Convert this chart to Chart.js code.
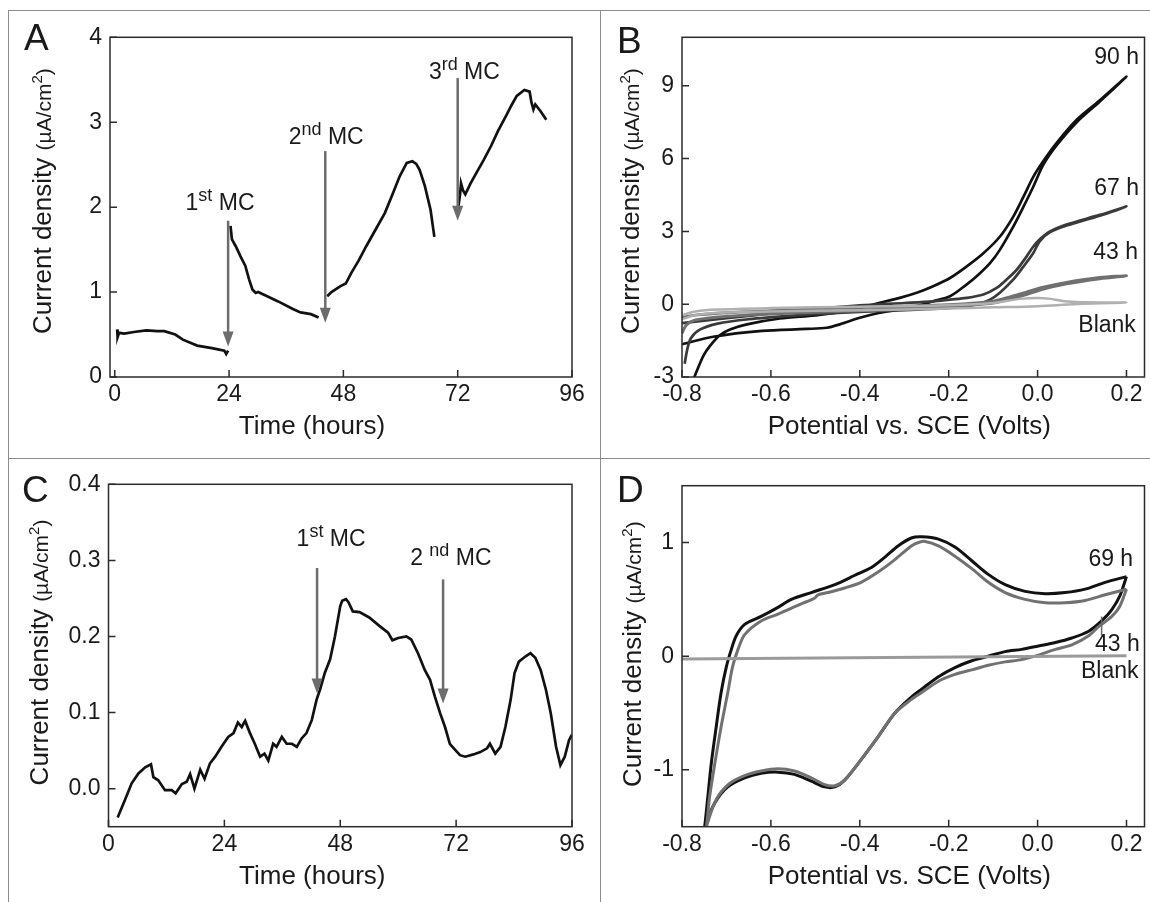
<!DOCTYPE html>
<html>
<head>
<meta charset="utf-8">
<script src="https://cdn.jsdelivr.net/npm/chart.js@4.4.1/dist/chart.umd.min.js"></script>
<style>
  body { margin: 0; background: #fff; width: 1150px; height: 902px; position: relative; overflow: hidden; }
  canvas { position: absolute; }
  .rule { position: absolute; background: #8c8c8c; }
</style>
</head>
<body>
<div class="rule" style="left:8px;top:10px;width:1142px;height:1px"></div>
<div class="rule" style="left:8px;top:10px;width:1px;height:892px"></div>
<div class="rule" style="left:600px;top:10px;width:1px;height:892px"></div>
<div class="rule" style="left:8px;top:458px;width:1142px;height:1px"></div>
<canvas id="panelA" width="591" height="446" style="left:9px;top:11px"></canvas>
<canvas id="panelB" width="549" height="446" style="left:601px;top:11px"></canvas>
<canvas id="panelC" width="591" height="442" style="left:9px;top:459px"></canvas>
<canvas id="panelD" width="549" height="442" style="left:601px;top:459px"></canvas>
<script>
// ---- panel A: current density vs time (null = break in the trace)
const aHours = [0.5, 0.6, 0.9, 2, 4, 6.6, 9, 10.4, 12.7, 14.3, 17.3, 20.4, 23, 23.4, 23.8, null,
  24.3, 24.6, 25.4, 26.4, 27.4, 28.2, 28.9, 29.6, 30.1, 32, 34.3, 37.4, 39, 41.2, 42.8, null,
  44.6, 45.5, 47.4, 48.5, 49.7, 51.2, 52.8, 54.8, 56.7, 58.3, 59.8, 61.3, 62.5, 63.3, 64, 65.1, 66.3, 67.1, null,
  72.1, 72.5, 72.7, 73.1, 73.6, 74.7, 75.9, 77.5, 79, 80.5, 82.1, 83.3, 84.4, 86, 87.1, 87.5, 87.9, 88.3, 89.4, 90.6];
const aCurrent = [0.56, 0.47, 0.52, 0.51, 0.53, 0.55, 0.54, 0.54, 0.5, 0.44, 0.37, 0.34, 0.31, 0.27, 0.31, null,
  1.78, 1.62, 1.54, 1.42, 1.31, 1.15, 1.03, 0.99, 1.0, 0.95, 0.89, 0.8, 0.76, 0.74, 0.7, null,
  0.95, 1.0, 1.07, 1.1, 1.23, 1.37, 1.54, 1.74, 1.93, 2.15, 2.36, 2.52, 2.54, 2.51, 2.44, 2.25, 1.97, 1.65, null,
  1.99, 2.15, 2.28, 2.2, 2.15, 2.28, 2.4, 2.56, 2.72, 2.9, 3.07, 3.2, 3.31, 3.38, 3.36, 3.23, 3.15, 3.21, 3.13, 3.03];
const aTimeTicks = [0, 24, 48, 72, 96];
const aCurrentTicks = [0, 1, 2, 3, 4];
const aArrowHours = [23.8, 44.2, 72];
const aArrowFrom = [1.84, 2.66, 3.52];
const aArrowTo = [0.36, 0.64, 1.84];
const aMarkLabels = [['1', 'st', ' MC'], ['2', 'nd', ' MC'], ['3', 'rd', ' MC']];
const aMarkHours = [22.1, 44.4, 73.4];
const aMarkCurrent = [2.06, 2.84, 3.6];

// ---- panel B: polarisation curves (each a forward + return scan)
const b90V = [-0.8, -0.73, -0.62, -0.52, -0.474, -0.445, -0.4, -0.355, -0.31, -0.272, -0.235, -0.197, -0.16, -0.137, -0.107, -0.085, -0.055, -0.032, -0.01, 0.013, 0.043, 0.088, 0.14, 0.2,
  0.14, 0.088, 0.043, 0.013, -0.01, -0.032, -0.055, -0.085, -0.122, -0.16, -0.197, -0.235, -0.272, -0.31, -0.355, -0.43, -0.5, -0.58, -0.654, -0.692, -0.715, -0.737, -0.752, -0.771, -0.776];
const b90I = [-1.65, -1.34, -1.1, -1.02, -0.97, -0.83, -0.56, -0.35, -0.22, -0.08, 0.12, 0.33, 0.81, 1.15, 1.69, 2.24, 3.19, 4.01, 4.83, 5.75, 6.55, 7.5, 8.35, 9.38,
  8.4, 7.6, 6.65, 5.9, 5.24, 4.42, 3.6, 2.78, 2.1, 1.55, 1.08, 0.74, 0.47, 0.26, 0.06, -0.29, -0.46, -0.59, -0.83, -1.04, -1.28, -1.72, -2.13, -2.95, -3.2];
const b67V = [-0.794, -0.788, -0.78, -0.76, -0.72, -0.65, -0.55, -0.45, -0.35, -0.272, -0.197, -0.137, -0.107, -0.085, -0.055, -0.032, -0.01, 0.005, 0.028, 0.065, 0.14, 0.2,
  0.14, 0.065, 0.028, 0.005, -0.01, -0.025, -0.047, -0.07, -0.092, -0.122, -0.16, -0.197, -0.235, -0.3, -0.4, -0.5, -0.6, -0.7, -0.76, -0.8];
const b67I = [-2.45, -1.85, -1.4, -1.05, -0.8, -0.62, -0.47, -0.36, -0.28, -0.22, -0.15, -0.01, 0.19, 0.47, 1.01, 1.55, 2.1, 2.6, 2.97, 3.24, 3.65, 4.03,
  3.68, 3.28, 3.0, 2.68, 2.37, 1.96, 1.42, 1.01, 0.67, 0.4, 0.26, 0.19, 0.12, 0.05, -0.05, -0.2, -0.38, -0.58, -0.7, -0.78];
const b43V = [-0.8, -0.79, -0.77, -0.7, -0.6, -0.5, -0.4, -0.3, -0.2, -0.16, -0.1, -0.062, -0.025, 0.013, 0.065, 0.14, 0.2,
  0.14, 0.065, 0.013, -0.025, -0.062, -0.1, -0.16, -0.2, -0.3, -0.4, -0.5, -0.6, -0.7, -0.77, -0.8];
const b43I = [-1.2, -0.85, -0.65, -0.5, -0.4, -0.33, -0.27, -0.2, -0.12, -0.05, 0.05, 0.2, 0.4, 0.62, 0.84, 1.05, 1.17,
  1.1, 0.9, 0.7, 0.5, 0.3, 0.12, 0.02, -0.02, -0.08, -0.14, -0.2, -0.27, -0.35, -0.45, -0.55];
const bBlankV = [-0.8, -0.77, -0.72, -0.6, -0.4, -0.2, -0.1, 0.0, 0.1, 0.2,
  0.1, 0.06, 0.03, 0.0, -0.04, -0.1, -0.2, -0.4, -0.6, -0.72, -0.77, -0.8];
const bBlankI = [-0.62, -0.45, -0.35, -0.3, -0.25, -0.18, -0.13, -0.08, 0.02, 0.07,
  0.08, 0.12, 0.22, 0.26, 0.22, 0.05, -0.04, -0.1, -0.16, -0.22, -0.3, -0.45];
const bPotentialTicks = [-0.8, -0.6, -0.4, -0.2, 0.0, 0.2];
const bCurrentTicks = [-3, 0, 3, 6, 9];
const bNames = ['90 h', '67 h', '43 h', 'Blank'];
const bNameV = [0.228, 0.228, 0.226, 0.221];
const bNameI = [10.15, 4.78, 2.12, -0.9];

// ---- panel C: current density vs time, second reactor
const cHours = [1.9, 3.4, 4.8, 6.2, 7.6, 8.8, 9.3, 10.3, 11.7, 13.1, 13.9, 15.2, 16.2, 16.9, 17.8, 19, 19.9, 21, 22.1, 23.4, 24.8, 25.9, 26.8, 27.6, 28.3, 29.3, 30.3, 31.4, 32.3, 33.1, 34.1, 34.8, 35.9, 36.9, 38, 39, 40, 41, 42.1, 43.1, 43.8, 44.8, 45.9, 46.9, 48, 48.4,
  49.2, 49.7, 50.6, 52, 54, 56.1, 57.9, 58.8, 60, 61.7, 62.7, 64.1, 65.5, 66.6, 67.6, 68.7, 69.7, 70.7, 71.8, 72.8, 73.9, 75.6, 77, 78.4, 79, 80.1, 81.2, 82.2, 83.3, 84.1, 85, 86.4, 87.4, 88.4, 89.5, 90.6, 91.6, 92.7, 93.6, 94.5, 95.4, 96];
const cCurrent = [-0.038, -0.015, 0.007, 0.02, 0.028, 0.032, 0.015, 0.011, -0.002, -0.002, -0.006, 0.006, 0.009, 0.019, 0.0, 0.025, 0.013, 0.033, 0.042, 0.055, 0.068, 0.073, 0.087, 0.081, 0.089, 0.073, 0.059, 0.042, 0.046, 0.037, 0.059, 0.055, 0.068, 0.059, 0.059, 0.055, 0.066, 0.073, 0.09, 0.117, 0.13, 0.152, 0.17, 0.2, 0.24, 0.247,
  0.249, 0.245, 0.233, 0.232, 0.225, 0.214, 0.205, 0.195, 0.198, 0.2, 0.196, 0.178, 0.156, 0.143, 0.121, 0.099, 0.081, 0.059, 0.051, 0.044, 0.042, 0.045, 0.048, 0.053, 0.059, 0.046, 0.055, 0.081, 0.117, 0.152, 0.167, 0.174, 0.178, 0.172, 0.156, 0.13, 0.099, 0.055, 0.031, 0.042, 0.064, 0.071];
const cTimeTicks = [0, 24, 48, 72, 96];
const cCurrentTicks = [0, 0.1, 0.2, 0.3, 0.4];
const cArrowHours = [43.2, 69.3];
const cArrowFrom = [0.29, 0.275];
const cArrowTo = [0.125, 0.112];
const cMarkLabels = [['1', 'st', ' MC'], ['2 ', 'nd', ' MC']];
const cMarkHours = [46.1, 70.9];
const cMarkCurrent = [0.33, 0.304];

// ---- panel D: cyclic voltammograms
const d69V = [0.2, 0.152, 0.107, 0.062, 0.017, -0.028, -0.073, -0.111, -0.148, -0.186, -0.223, -0.261, -0.284, -0.314, -0.344, -0.374, -0.412, -0.456, -0.509, -0.554, -0.584, -0.622, -0.659, -0.678, -0.689, -0.7, -0.712, -0.723, -0.734, -0.742, -0.749, -0.755,
  -0.748, -0.726, -0.697, -0.659, -0.622, -0.584, -0.547, -0.509, -0.479, -0.456, -0.434, -0.397, -0.359, -0.321, -0.284, -0.261, -0.223, -0.186, -0.148, -0.111, -0.073, -0.036, 0.002, 0.04, 0.077, 0.115, 0.144, 0.167, 0.185, 0.2];
const d69I = [0.7, 0.65, 0.59, 0.56, 0.55, 0.57, 0.63, 0.72, 0.84, 0.96, 1.03, 1.05, 1.04, 0.97, 0.87, 0.78, 0.71, 0.63, 0.56, 0.5, 0.43, 0.35, 0.28, 0.18, 0.06, -0.09, -0.32, -0.62, -0.94, -1.24, -1.5, -1.65,
  -1.5, -1.29, -1.15, -1.07, -1.03, -1.02, -1.04, -1.1, -1.15, -1.15, -1.09, -0.91, -0.71, -0.5, -0.36, -0.29, -0.18, -0.1, -0.04, 0.0, 0.04, 0.06, 0.09, 0.12, 0.16, 0.22, 0.31, 0.41, 0.53, 0.7];
const d43V = [0.2, 0.152, 0.107, 0.062, 0.017, -0.028, -0.073, -0.111, -0.148, -0.186, -0.223, -0.253, -0.268, -0.284, -0.321, -0.359, -0.397, -0.434, -0.471, -0.494, -0.502, -0.532, -0.584, -0.622, -0.659, -0.674, -0.686, -0.697, -0.712, -0.726, -0.738, -0.745, -0.752,
  -0.745, -0.723, -0.693, -0.659, -0.622, -0.584, -0.547, -0.509, -0.479, -0.456, -0.434, -0.397, -0.359, -0.321, -0.284, -0.261, -0.223, -0.186, -0.148, -0.111, -0.073, -0.036, 0.002, 0.04, 0.077, 0.115, 0.137, 0.167, 0.185, 0.2];
const d43I = [0.59, 0.54, 0.49, 0.47, 0.47, 0.5, 0.56, 0.65, 0.77, 0.88, 0.97, 1.01, 1.0, 0.97, 0.85, 0.74, 0.65, 0.6, 0.56, 0.54, 0.51, 0.46, 0.37, 0.31, 0.19, 0.06, -0.09, -0.32, -0.62, -0.94, -1.24, -1.5, -1.65,
  -1.5, -1.26, -1.12, -1.05, -1.01, -0.99, -1.01, -1.07, -1.13, -1.14, -1.09, -0.91, -0.71, -0.5, -0.38, -0.32, -0.22, -0.16, -0.12, -0.08, -0.05, -0.03, 0.01, 0.06, 0.1, 0.18, 0.26, 0.35, 0.44, 0.59];
const dBlankV = [-0.8, 0.2];
const dBlankI = [-0.025, 0.005];
const dLeaderV = [0.144, 0.144];
const dLeaderI = [0.18, 0.35];
const dPotentialTicks = [-0.8, -0.6, -0.4, -0.2, 0.0, 0.2];
const dCurrentTicks = [-1, 0, 1];
const dNames = ['69 h', '43 h', 'Blank'];
const dNameV = [0.215, 0.23, 0.227];
const dNameI = [0.85, 0.1, -0.14];

const FONT = '"Liberation Sans", Arial, Helvetica, sans-serif';
const yTitleParts = [['Current density ', 26, 0], ['(\u00b5A/cm', 21, 0], ['2', 15, 9], [')', 21, 0]];

function pts(xs, ys) {
  return xs.map((x, i) => ({ x: x, y: ys[i] }));
}

function trace(xs, ys, color, width, tension) {
  return { data: pts(xs, ys), showLine: true, borderColor: color, borderWidth: width,
    pointRadius: 0, tension: tension || 0, fill: false, spanGaps: false };
}

// draws a run of [text, size, raise] pieces centred on cx, baseline at y
function pieces(ctx, parts, cx, y) {
  let w = 0;
  parts.forEach(p => { ctx.font = p[1] + 'px ' + FONT; w += ctx.measureText(p[0]).width; });
  let x = cx - w / 2;
  ctx.textAlign = 'left';
  ctx.textBaseline = 'alphabetic';
  parts.forEach(p => {
    ctx.font = p[1] + 'px ' + FONT;
    ctx.fillText(p[0], x, y - p[2]);
    x += ctx.measureText(p[0]).width;
  });
}

function makePanel(id, cell, area, cfg) {
  const decor = {
    id: 'decor' + id,
    afterDatasetsDraw(chart) {
      const ctx = chart.ctx;
      const ca = chart.chartArea;
      const xs = chart.scales.x, ys = chart.scales.y;
      ctx.save();
      // frame and inward ticks
      ctx.strokeStyle = '#2b2b2b';
      ctx.lineWidth = 1.5;
      ctx.strokeRect(ca.left, ca.top, ca.right - ca.left, ca.bottom - ca.top);
      ctx.beginPath();
      cfg.xTicks.forEach(v => {
        const px = xs.getPixelForValue(v);
        ctx.moveTo(px, ca.bottom); ctx.lineTo(px, ca.bottom - 7);
      });
      cfg.yTicks.forEach(v => {
        const py = ys.getPixelForValue(v);
        ctx.moveTo(ca.left, py); ctx.lineTo(ca.left + 7, py);
      });
      ctx.stroke();

      // arrows
      ctx.strokeStyle = '#6c6c6c';
      ctx.fillStyle = '#6c6c6c';
      ctx.lineWidth = 2.5;
      (cfg.arrows || []).forEach(a => {
        const px = xs.getPixelForValue(a[0]);
        const p0 = ys.getPixelForValue(a[1]);
        const p1 = ys.getPixelForValue(a[2]);
        ctx.beginPath();
        ctx.moveTo(px, p0); ctx.lineTo(px, p1 - 12);
        ctx.stroke();
        ctx.beginPath();
        ctx.moveTo(px - 5.5, p1 - 15); ctx.lineTo(px + 5.5, p1 - 15); ctx.lineTo(px, p1);
        ctx.closePath();
        ctx.fill();
      });

      ctx.fillStyle = '#1a1a1a';
      (cfg.marks || []).forEach(m => {
        const px = xs.getPixelForValue(m[1]);
        const py = ys.getPixelForValue(m[2]);
        pieces(ctx, [[m[0][0], 23, 0], [m[0][1], 18, 9], [m[0][2], 23, 0]], px, py + 8);
      });
      (cfg.names || []).forEach(n => {
        ctx.font = '23px ' + FONT;
        ctx.textAlign = 'right';
        ctx.textBaseline = 'middle';
        ctx.fillText(n[0], xs.getPixelForValue(n[1]), ys.getPixelForValue(n[2]));
      });

      // axis titles and panel letter
      ctx.font = '26px ' + FONT;
      ctx.textAlign = 'center';
      ctx.textBaseline = 'middle';
      ctx.fillText(cfg.xTitle, (ca.left + ca.right) / 2 + cfg.xTitleShift, ca.bottom + cfg.xTitleDrop);
      ctx.save();
      ctx.translate(ca.left - cfg.yTitleGap, (ca.top + ca.bottom) / 2 + cfg.yTitleShift);
      ctx.rotate(-Math.PI / 2);
      pieces(ctx, yTitleParts, 0, 9);
      ctx.restore();
      ctx.font = '37px ' + FONT;
      ctx.textAlign = 'left';
      ctx.textBaseline = 'alphabetic';
      ctx.fillText(cfg.letter, cfg.letterAt[0] - cell[0], cfg.letterAt[1] - cell[1]);
      ctx.restore();
    }
  };

  const tickFont = { family: FONT, size: 23 };
  return new Chart(document.getElementById(id), {
    type: 'scatter',
    data: { datasets: cfg.datasets },
    options: {
      responsive: false,
      animation: false,
      events: [],
      layout: { padding: { left: 0, top: area[1] - cell[1], right: cell[0] + cell[2] - area[2], bottom: 0 } },
      plugins: { legend: { display: false }, tooltip: { enabled: false } },
      scales: {
        x: {
          type: 'linear', position: 'bottom', min: cfg.xMin, max: cfg.xMax,
          afterBuildTicks: s => { s.ticks = cfg.xTicks.map(v => ({ value: v })); },
          afterFit: s => { s.height = cell[1] + cell[3] - area[3]; s.paddingLeft = 0; s.paddingRight = 0; },
          grid: { display: false, drawTicks: false },
          border: { display: false },
          ticks: { font: tickFont, color: '#1a1a1a', padding: 4, maxRotation: 0, autoSkip: false, callback: cfg.xFmt }
        },
        y: {
          type: 'linear', position: 'left', min: cfg.yMin, max: cfg.yMax,
          afterBuildTicks: s => { s.ticks = cfg.yTicks.map(v => ({ value: v })); },
          afterFit: s => { s.width = area[0] - cell[0]; s.paddingTop = 0; s.paddingBottom = 0; },
          grid: { display: false, drawTicks: false },
          border: { display: false },
          ticks: { font: tickFont, color: '#1a1a1a', padding: 8, autoSkip: false, callback: cfg.yFmt }
        }
      }
    },
    plugins: [decor]
  });
}

const plain = v => String(Math.round(v * 10) / 10);
const oneDp = v => (Math.abs(v) < 1e-9 ? 0 : v).toFixed(1);
const zip3 = (a, b, c) => a.map((v, i) => [v, b[i], c[i]]);

makePanel('panelA', [9, 11, 591, 446], [110, 37.3, 572, 377], {
  datasets: [trace(aHours, aCurrent, '#111', 2.7)],
  xMin: -1, xMax: 96, xTicks: aTimeTicks, xFmt: plain,
  yMin: 0, yMax: 4, yTicks: aCurrentTicks, yFmt: plain,
  arrows: zip3(aArrowHours, aArrowFrom, aArrowTo),
  marks: zip3(aMarkLabels, aMarkHours, aMarkCurrent),
  xTitle: 'Time (hours)', xTitleShift: -29, xTitleDrop: 50,
  yTitleGap: 68, yTitleShift: -6, letter: 'A', letterAt: [24, 50]
});

makePanel('panelB', [601, 11, 549, 446], [682, 37.3, 1144.5, 377], {
  datasets: [
    trace(bBlankV, bBlankI, '#b0b0b0', 2.5, 0.3),
    trace(b43V, b43I, '#707070', 3, 0.3),
    trace(b67V, b67I, '#3a3a3a', 2.7, 0.3),
    trace(b90V, b90I, '#111', 2.7, 0.3)
  ],
  xMin: -0.8, xMax: 0.2405, xTicks: bPotentialTicks, xFmt: oneDp,
  yMin: -3, yMax: 11, yTicks: bCurrentTicks, yFmt: plain,
  names: zip3(bNames, bNameV, bNameI),
  xTitle: 'Potential vs. SCE (Volts)', xTitleShift: -4, xTitleDrop: 50,
  yTitleGap: 52, yTitleShift: -6, letter: 'B', letterAt: [617, 53]
});

makePanel('panelC', [9, 459, 591, 442], [108.5, 484.3, 572, 826.7], {
  datasets: [trace(cHours, cCurrent, '#111', 2.7)],
  xMin: 0, xMax: 96, xTicks: cTimeTicks, xFmt: plain,
  yMin: -0.05, yMax: 0.4, yTicks: cCurrentTicks, yFmt: oneDp,
  arrows: zip3(cArrowHours, cArrowFrom, cArrowTo),
  marks: zip3(cMarkLabels, cMarkHours, cMarkCurrent),
  xTitle: 'Time (hours)', xTitleShift: -28, xTitleDrop: 50,
  yTitleGap: 70, yTitleShift: -3, letter: 'C', letterAt: [22, 502]
});

makePanel('panelD', [601, 459, 549, 442], [682, 485.7, 1144.5, 826.7], {
  datasets: [
    trace(dBlankV, dBlankI, '#9a9a9a', 3),
    trace(dLeaderV, dLeaderI, '#6a6a6a', 1.5),
    trace(d43V, d43I, '#717171', 3, 0.3),
    trace(d69V, d69I, '#111', 3, 0.3)
  ],
  xMin: -0.8, xMax: 0.2405, xTicks: dPotentialTicks, xFmt: oneDp,
  yMin: -1.5, yMax: 1.5, yTicks: dCurrentTicks, yFmt: plain,
  names: zip3(dNames, dNameV, dNameI),
  xTitle: 'Potential vs. SCE (Volts)', xTitleShift: -4, xTitleDrop: 50,
  yTitleGap: 50, yTitleShift: -2, letter: 'D', letterAt: [617, 502]
});
</script>
</body>
</html>
